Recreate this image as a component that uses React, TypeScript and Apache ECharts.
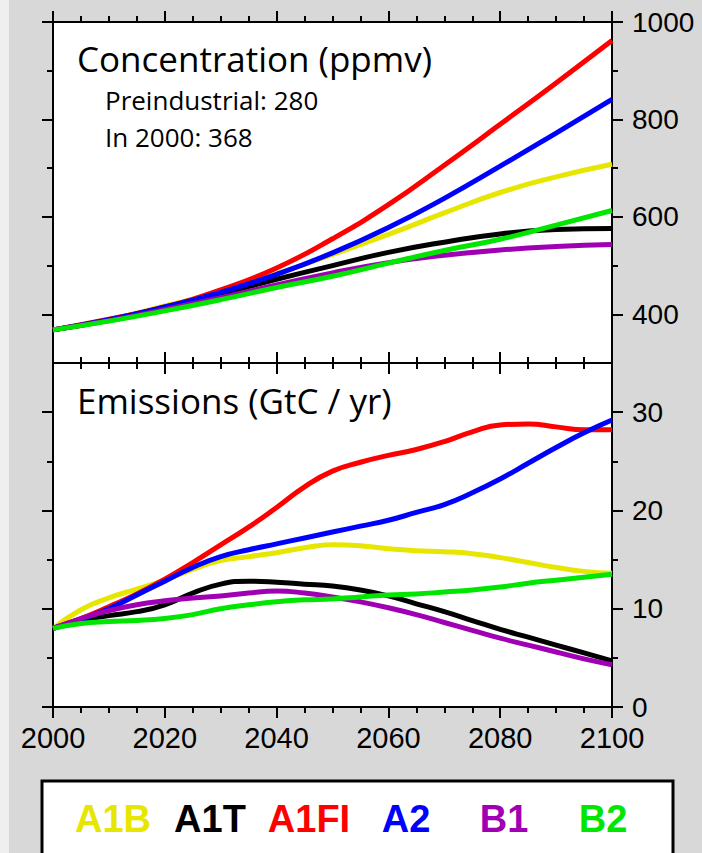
import React, { useEffect, useRef } from "react";
import * as echarts from "echarts";

// Scenario names and their line colours
const SCENARIOS = ["A1B", "A1T", "A1FI", "A2", "B1", "B2"];
const COLORS = ["#e6e600", "#000000", "#ff0000", "#0000ff", "#a000b4", "#00e600"];

// CO2 concentration (ppmv), every 10 years
const CONC_YEARS = [2000, 2010, 2020, 2030, 2040, 2050, 2060, 2070, 2080, 2090, 2100];
const concA1B = [368, 389, 417, 447, 483, 523, 564, 608, 650, 682, 708];
const concA1T = [368, 388, 414, 442, 472, 500, 527, 548, 565, 574, 576];
const concA1FI = [368, 390, 415, 450, 495, 555, 625, 706, 790, 875, 962];
const concA2 = [368, 389, 415, 445, 482, 526, 578, 638, 704, 772, 841];
const concB1 = [368, 387, 410, 434, 460, 485, 506, 521, 532, 539, 543];
const concB2 = [368, 386, 407, 430, 455, 478, 505, 531, 554, 583, 613];

// CO2 emissions (GtC / yr), every 5 years
const EMIS_YEARS = [2000, 2005, 2010, 2015, 2020, 2025, 2030, 2035, 2040, 2045, 2050, 2055, 2060, 2065, 2070, 2075, 2080, 2085, 2090, 2095, 2100];
const emisA1B = [8.0, 9.9, 11.1, 12.0, 12.9, 14.0, 14.9, 15.3, 15.7, 16.2, 16.5, 16.4, 16.1, 15.9, 15.8, 15.6, 15.2, 14.7, 14.2, 13.8, 13.6];
const emisA1T = [8.0, 8.8, 9.3, 9.7, 10.4, 11.6, 12.5, 12.8, 12.7, 12.5, 12.3, 11.9, 11.3, 10.5, 9.7, 8.8, 7.9, 7.1, 6.3, 5.5, 4.7];
const emisA1FI = [8.0, 9.0, 10.2, 11.5, 13.0, 14.7, 16.5, 18.3, 20.3, 22.4, 24.0, 24.9, 25.6, 26.2, 27.0, 28.0, 28.7, 28.8, 28.5, 28.2, 28.2];
const emisA2 = [8.0, 8.9, 10.0, 11.4, 12.8, 14.2, 15.3, 16.0, 16.6, 17.2, 17.8, 18.4, 19.0, 19.8, 20.6, 21.8, 23.2, 24.8, 26.4, 27.9, 29.2];
const emisB1 = [8.0, 9.0, 9.8, 10.4, 10.8, 11.1, 11.3, 11.6, 11.8, 11.6, 11.2, 10.7, 10.1, 9.4, 8.6, 7.8, 7.0, 6.3, 5.6, 4.9, 4.3];
const emisB2 = [8.0, 8.5, 8.7, 8.8, 9.0, 9.4, 10.0, 10.4, 10.7, 10.9, 11.0, 11.2, 11.4, 11.5, 11.7, 11.9, 12.2, 12.6, 12.9, 13.2, 13.5];

// Axis ticks
const CONC_MAJOR = [400, 600, 800, 1000];
const CONC_MINOR = [500, 700, 900];
const EMIS_MAJOR = [0, 10, 20, 30];
const EMIS_MINOR = [5, 15, 25];

// Panel texts
const CONC_TITLE = "Concentration (ppmv)";
const CONC_NOTES = ["Preindustrial: 280", "In 2000: 368"];
const EMIS_TITLE = "Emissions (GtC / yr)";

// Legend label centres
const LEGEND_X = [113, 210, 309, 406, 504, 603];

const CONC_SERIES = [concA1B, concA1T, concA1FI, concA2, concB1, concB2];
const EMIS_SERIES = [emisA1B, emisA1T, emisA1FI, emisA2, emisB1, emisB2];

const LABEL_FONT = "Liberation Sans, Arial, sans-serif";
const TITLE_FONT = "Open Sans, sans-serif";

const pair = (years: number[], vals: number[]) => years.map((y, i) => [y, vals[i]]);
const plain = (v: number) => String(v);

function xAxisDef(grid: number, position: "top" | "bottom", labels: boolean) {
  return {
    type: "value",
    gridIndex: grid,
    position,
    min: 2000,
    max: 2100,
    interval: 20,
    axisLine: { show: true, onZero: false, lineStyle: { color: "#000", width: 2 } },
    axisTick: { show: true, inside: false, length: 11, lineStyle: { color: "#000", width: 2 } },
    minorTick: { show: true, splitNumber: 4, length: 6, lineStyle: { color: "#000", width: 2 } },
    splitLine: { show: false },
    minorSplitLine: { show: false },
    axisLabel: {
      show: labels,
      color: "#000",
      fontSize: 29,
      fontFamily: LABEL_FONT,
      margin: 16,
      formatter: plain,
    },
  };
}

function yAxisDef(
  grid: number,
  position: "left" | "right",
  min: number,
  max: number,
  ticks: number[],
  length: number,
  labels: boolean,
  line: boolean
) {
  return {
    type: "value",
    gridIndex: grid,
    position,
    min,
    max,
    axisLine: { show: line, onZero: false, lineStyle: { color: "#000", width: 2 } },
    axisTick: { show: true, inside: false, length, customValues: ticks, lineStyle: { color: "#000", width: 2 } },
    splitLine: { show: false },
    axisLabel: {
      show: labels,
      customValues: ticks,
      color: "#000",
      fontSize: 28,
      fontFamily: LABEL_FONT,
      margin: 20,
      formatter: plain,
    },
  };
}

export default function App() {
  const ref = useRef<HTMLDivElement>(null);

  useEffect(() => {
    document.body.style.margin = "0";
    const chart = echarts.init(ref.current!, null, { renderer: "svg" });

    const series: any[] = [];
    SCENARIOS.forEach((name, i) => {
      series.push({
        name,
        type: "line",
        xAxisIndex: 0,
        yAxisIndex: 0,
        data: pair(CONC_YEARS, CONC_SERIES[i]),
        showSymbol: false,
        symbol: "none",
        smooth: 0.5,
        lineStyle: { color: COLORS[i], width: 5 },
        itemStyle: { color: COLORS[i] },
        z: 3 + i,
      });
    });
    SCENARIOS.forEach((name, i) => {
      series.push({
        name,
        type: "line",
        xAxisIndex: 3,
        yAxisIndex: 4,
        data: pair(EMIS_YEARS, EMIS_SERIES[i]),
        showSymbol: false,
        symbol: "none",
        smooth: 0.5,
        lineStyle: { color: COLORS[i], width: 5 },
        itemStyle: { color: COLORS[i] },
        z: 3 + i,
      });
    });

    const graphic: any[] = [
      { type: "rect", shape: { x: 0, y: 0, width: 9, height: 853 }, style: { fill: "#efefef" }, z: 0 },
      {
        type: "text",
        style: { text: CONC_TITLE, x: 77, y: 58, fill: "#000", font: `35px ${TITLE_FONT}`, align: "left", verticalAlign: "middle" },
        z: 10,
      },
      ...CONC_NOTES.map((t, i) => ({
        type: "text",
        style: { text: t, x: 105, y: 100 + i * 37, fill: "#000", font: `26px ${TITLE_FONT}`, align: "left", verticalAlign: "middle" },
        z: 10,
      })),
      {
        type: "text",
        style: { text: EMIS_TITLE, x: 77, y: 400, fill: "#000", font: `35px ${TITLE_FONT}`, align: "left", verticalAlign: "middle" },
        z: 10,
      },
      {
        type: "rect",
        shape: { x: 42, y: 781, width: 631, height: 120 },
        style: { fill: "#fff", stroke: "#000", lineWidth: 3 },
        z: 5,
      },
      ...SCENARIOS.map((name, i) => ({
        type: "text",
        style: {
          text: name,
          x: LEGEND_X[i],
          y: 819,
          fill: COLORS[i],
          font: `bold 38px ${LABEL_FONT}`,
          align: "center",
          verticalAlign: "middle",
        },
        z: 10,
      })),
    ];

    chart.setOption({
      animation: false,
      backgroundColor: "#d8d8d8",
      grid: [
        { left: 53, top: 22, width: 559, height: 341, show: true, backgroundColor: "#fff", borderWidth: 0 },
        { left: 53, top: 363, width: 559, height: 344, show: true, backgroundColor: "#fff", borderWidth: 0 },
      ],
      xAxis: [
        xAxisDef(0, "bottom", false),
        xAxisDef(0, "top", false),
        xAxisDef(1, "top", false),
        xAxisDef(1, "bottom", true),
      ],
      yAxis: [
        yAxisDef(0, "right", 300, 1000, CONC_MAJOR, 11, true, true),
        yAxisDef(0, "right", 300, 1000, CONC_MINOR, 6, false, false),
        yAxisDef(0, "left", 300, 1000, CONC_MAJOR, 11, false, true),
        yAxisDef(0, "left", 300, 1000, CONC_MINOR, 6, false, false),
        yAxisDef(1, "right", 0, 35, EMIS_MAJOR, 11, true, true),
        yAxisDef(1, "right", 0, 35, EMIS_MINOR, 6, false, false),
        yAxisDef(1, "left", 0, 35, EMIS_MAJOR, 11, false, true),
        yAxisDef(1, "left", 0, 35, EMIS_MINOR, 6, false, false),
      ],
      series,
      graphic,
    });

    return () => chart.dispose();
  }, []);

  return <div ref={ref} style={{ position: "absolute", left: 0, top: 0, width: 702, height: 853 }} />;
}
